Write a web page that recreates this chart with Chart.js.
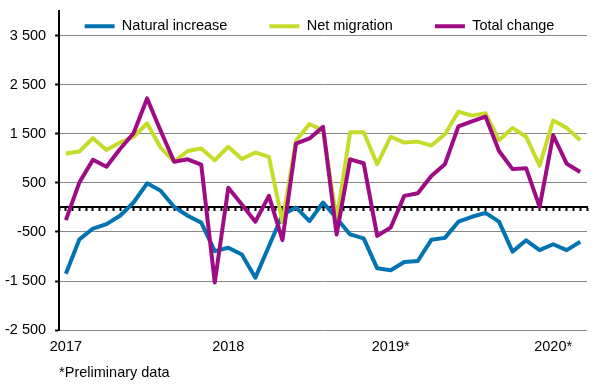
<!DOCTYPE html>
<html>
<head>
<meta charset="utf-8">
<title>Population change by month</title>
<script src="https://cdn.jsdelivr.net/npm/chart.js@4.4.1/dist/chart.umd.min.js"></script>
<style>
  html, body { margin: 0; padding: 0; background: #fff; }
  canvas { display: block; }
</style>
</head>
<body>
<canvas id="popChart" width="614" height="391"></canvas>
<script>
(function () {
    "use strict";

    // ---- Data: monthly, Jan 2017 .. Mar 2020 ----
    const MONTHS = [
        "2017M01", "2017M02", "2017M03", "2017M04", "2017M05", "2017M06",
        "2017M07", "2017M08", "2017M09", "2017M10", "2017M11", "2017M12",
        "2018M01", "2018M02", "2018M03", "2018M04", "2018M05", "2018M06",
        "2018M07", "2018M08", "2018M09", "2018M10", "2018M11", "2018M12",
        "2019M01", "2019M02", "2019M03", "2019M04", "2019M05", "2019M06",
        "2019M07", "2019M08", "2019M09", "2019M10", "2019M11", "2019M12",
        "2020M01", "2020M02", "2020M03",
    ];
    const YEAR_LABELS = ["2017", "2018", "2019*", "2020*"];
    const Y_TICKS = [-2500, -1500, -500, 500, 1500, 2500, 3500];

    const NATURAL_INCREASE = [
        -1350, -650, -430, -340, -170, 100, 490, 340, 10, -170, -310, -890,
        -820, -960, -1430, -790, -150, 0, -280, 100, -220, -550, -630, -1240,
        -1280, -1110, -1090, -660, -620, -290, -190, -110, -290, -900, -670, -870,
        -750, -870, -700,
    ];
    const NET_MIGRATION = [
        1100, 1140, 1410, 1170, 1320, 1440, 1710, 1220, 935, 1150, 1200, 960,
        1235, 985, 1120, 1030, -300, 1360, 1700, 1570, -260, 1530, 1530, 880,
        1440, 1320, 1340, 1260, 1490, 1950, 1870, 1920, 1370, 1620, 1440, 850,
        1770, 1620, 1370,
    ];
    const TOTAL_CHANGE = [
        -260, 510, 970, 830, 1190, 1510, 2220, 1560, 930, 980, 870, -1530,
        400, 60, -290, 235, -665, 1300, 1405, 1640, -550, 980, 900, -580,
        -410, 235, 290, 640, 880, 1650, 1750, 1850, 1150, 780, 800, 10,
        1470, 890, 720,
    ];

    // ---- Style ----
    const COLORS = {
        blue:   "#0073b0",
        green:  "#c6dc2b",
        purple: "#9e0b85",
        grid:   "#878787",
        text:   "#000000",
    };
    const FONT = { family: "'Liberation Sans', Arial, sans-serif", size: 14.5, lineHeight: 1.2 };

    // "3 500", "-1 500"
    const fmt = (v) => (v < 0 ? "-" : "") + String(Math.abs(v)).replace(/\B(?=(\d{3})+(?!\d))/g, " ");

    function series(label, data, color, order) {
        return {
            label: label,
            data: data,
            borderColor: color,
            backgroundColor: color,
            borderWidth: 4,
            borderJoinStyle: "round",
            pointRadius: 0,
            tension: 0,
            fill: false,
            order: order,
        };
    }

    // Excel puts the legend inside the plot area; Chart.js reserves room for it,
    // so keep it small in the layout and move it into place afterwards
    // (the box is also the legend's clip rect, so give it back its height).
    const legendNudge = {
        id: "legendNudge",
        afterLayout(chart) {
            const lg = chart.legend;
            lg.top -= 23;
            lg.left += 28;
            lg.right += 28;
            lg.height = 120;
            lg.bottom = lg.top + lg.height;
        },
    };

    new Chart(document.getElementById("popChart"), {
        type: "line",
        data: {
            labels: MONTHS,
            datasets: [
                series("Natural increase", NATURAL_INCREASE, COLORS.blue, 2),
                series("Net migration", NET_MIGRATION, COLORS.green, 1),
                series("Total change", TOTAL_CHANGE, COLORS.purple, 0),
            ],
        },
        plugins: [legendNudge],
        options: {
            responsive: false,
            animation: false,
            devicePixelRatio: 1,
            layout: { padding: { top: 0, left: -4, right: 27, bottom: 9 } },
            plugins: {
                tooltip: { enabled: false },
                legend: {
                    position: "top",
                    maxHeight: 11,
                    labels: {
                        usePointStyle: true,
                        pointStyle: "line",
                        pointStyleWidth: 30,
                        padding: 42,
                        color: COLORS.text,
                        font: FONT,
                        sort: (a, b) => a.datasetIndex - b.datasetIndex,
                    },
                },
            },
            scales: {
                x: {
                    type: "category",
                    offset: true,
                    grid: { display: false, drawTicks: false },
                    border: { display: false },
                    ticks: {
                        autoSkip: false,
                        maxRotation: 0,
                        padding: 8.5,
                        color: COLORS.text,
                        font: FONT,
                        callback: (val, i) => (i % 12 === 0 ? YEAR_LABELS[i / 12] : ""),
                    },
                    title: {
                        display: true,
                        text: "*Preliminary data",
                        align: "start",
                        color: COLORS.text,
                        font: FONT,
                        padding: { top: 0, bottom: 0 },
                    },
                },
                // zero line with the small half-month tick marks
                x2: {
                    type: "linear",
                    position: { y: 0 },
                    min: 0,
                    max: MONTHS.length,
                    ticks: { display: false, stepSize: 0.5 },
                    border: { color: "#000", width: 2 },
                    grid: { drawOnChartArea: false, tickLength: 3, tickColor: "#000", tickWidth: 2 },
                },
                y: {
                    min: -2500,
                    max: 4000,
                    afterBuildTicks: (scale) => { scale.ticks = Y_TICKS.map(v => ({ value: v })); },
                    afterFit: (scale) => { scale.paddingTop = 0; },
                    border: { color: "#000", width: 2 },
                    grid: { color: COLORS.grid, lineWidth: 1, tickLength: 4, tickColor: "#000", tickWidth: 2 },
                    ticks: { color: COLORS.text, font: FONT, padding: 9, callback: (v) => fmt(v) },
                },
            },
        },
    });
})();
</script>
</body>
</html>
